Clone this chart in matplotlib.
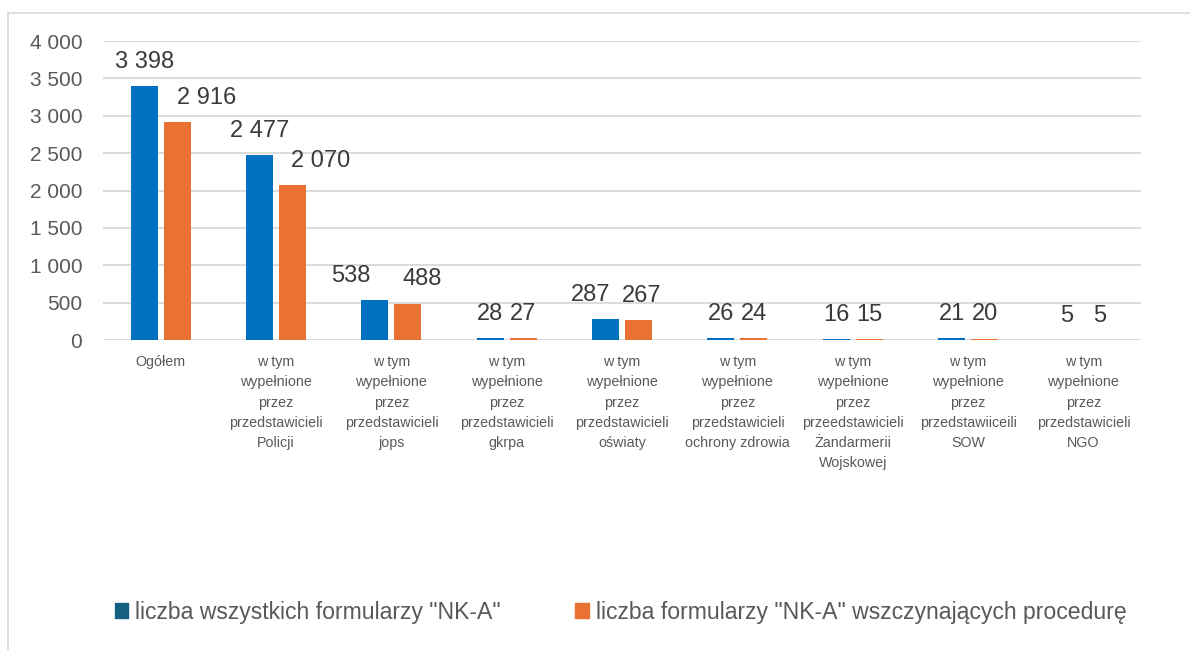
import numpy as np
import matplotlib
matplotlib.use("Agg")
import matplotlib.pyplot as plt
from matplotlib.patches import Patch, Rectangle
from matplotlib.ticker import FuncFormatter

plt.rcParams['font.family'] = ['Liberation Sans', 'DejaVu Sans']

# ---------------------------------------------------------------- data
categories = [
    "Ogółem",
    "w tym\nwypełnione\nprzez\nprzedstawicieli\nPolicji",
    "w tym\nwypełnione\nprzez\nprzedstawicieli\njops",
    "w tym\nwypełnione\nprzez\nprzedstawicieli\ngkrpa",
    "w tym\nwypełnione\nprzez\nprzedstawicieli\noświaty",
    "w tym\nwypełnione\nprzez\nprzedstawicieli\nochrony zdrowia",
    "w tym\nwypełnione\nprzez\nprzeedstawicieli\nŻandarmerii\nWojskowej",
    "w tym\nwypełnione\nprzez\nprzedstawiiceili\nSOW",
    "w tym\nwypełnione\nprzez\nprzedstawicieli\nNGO",
]
all_forms = [3398, 2477, 538, 28, 287, 26, 16, 21, 5]
started_forms = [2916, 2070, 488, 27, 267, 24, 15, 20, 5]
series_names = ['liczba wszystkich formularzy "NK-A"',
                'liczba formularzy "NK-A" wszczynających procedurę']

# ---------------------------------------------------------------- style
BLUE = "#0070C0"
BLUE_LEG = "#156082"
ORANGE = "#E97132"
GRID = "#D9D9D9"
TXT = "#595959"
LBL = "#3A3A3A"

# horizontal nudges of the value labels (points), as placed in the original
shift_all = [0, 0, -17, 0, -11, 0, 0, 0, 0]
shift_started = [21, 20, 10, 0, 2, 0, 0, 0, 0]


def fmt_thousands(v, pos=None):
    return "{:,.0f}".format(v).replace(",", " ")


fig = plt.figure(figsize=(11.9, 6.5), dpi=100)
ax = fig.add_axes([0.0866, 0.4769, 0.8723, 0.46])

x = np.arange(len(categories))
w = 0.234
off = 0.143
b1 = ax.bar(x - off, all_forms, w, color=BLUE, zorder=3)
b2 = ax.bar(x + off, started_forms, w, color=ORANGE, zorder=3)

for bars, vals, shifts in ((b1, all_forms, shift_all), (b2, started_forms, shift_started)):
    for rect, v, dx in zip(bars, vals, shifts):
        ax.annotate(fmt_thousands(v),
                    (rect.get_x() + rect.get_width() / 2, rect.get_height()),
                    xytext=(dx, 13), textcoords="offset points",
                    ha="center", va="baseline", fontsize=17, color=LBL)

ax.set_xlim(-0.5, len(categories) - 0.5)
ax.set_ylim(0, 4000)
ax.set_yticks(np.arange(0, 4001, 500))
ax.yaxis.set_major_formatter(FuncFormatter(fmt_thousands))
ax.grid(axis="y", color=GRID, linewidth=1.3, zorder=0)
ax.set_axisbelow(True)
for s in ax.spines.values():
    s.set_visible(False)
ax.tick_params(axis="y", length=0, pad=15, labelsize=15, labelcolor=TXT)
ax.tick_params(axis="x", length=0, pad=11, labelsize=10.3, labelcolor=TXT)
ax.set_xticks(x)
ax.set_xticklabels(categories, linespacing=1.56, va="top")

# chart frame
fig.patches.append(Rectangle((8 / 1190, -0.1), 1.2, 1 - 13 / 650 + 0.1,
                             transform=fig.transFigure, fill=False,
                             edgecolor=GRID, linewidth=1.2))

handles = [Patch(color=BLUE_LEG), Patch(color=ORANGE)]
fig.legend(handles, series_names, loc="center", bbox_to_anchor=(0.5214, 1 - 612 / 650),
           ncol=2, frameon=False, fontsize=16.6, handlelength=0.6, handleheight=0.6,
           handletextpad=0.3, columnspacing=3.2, labelcolor=TXT)

fig.savefig("out.png", dpi=100)
